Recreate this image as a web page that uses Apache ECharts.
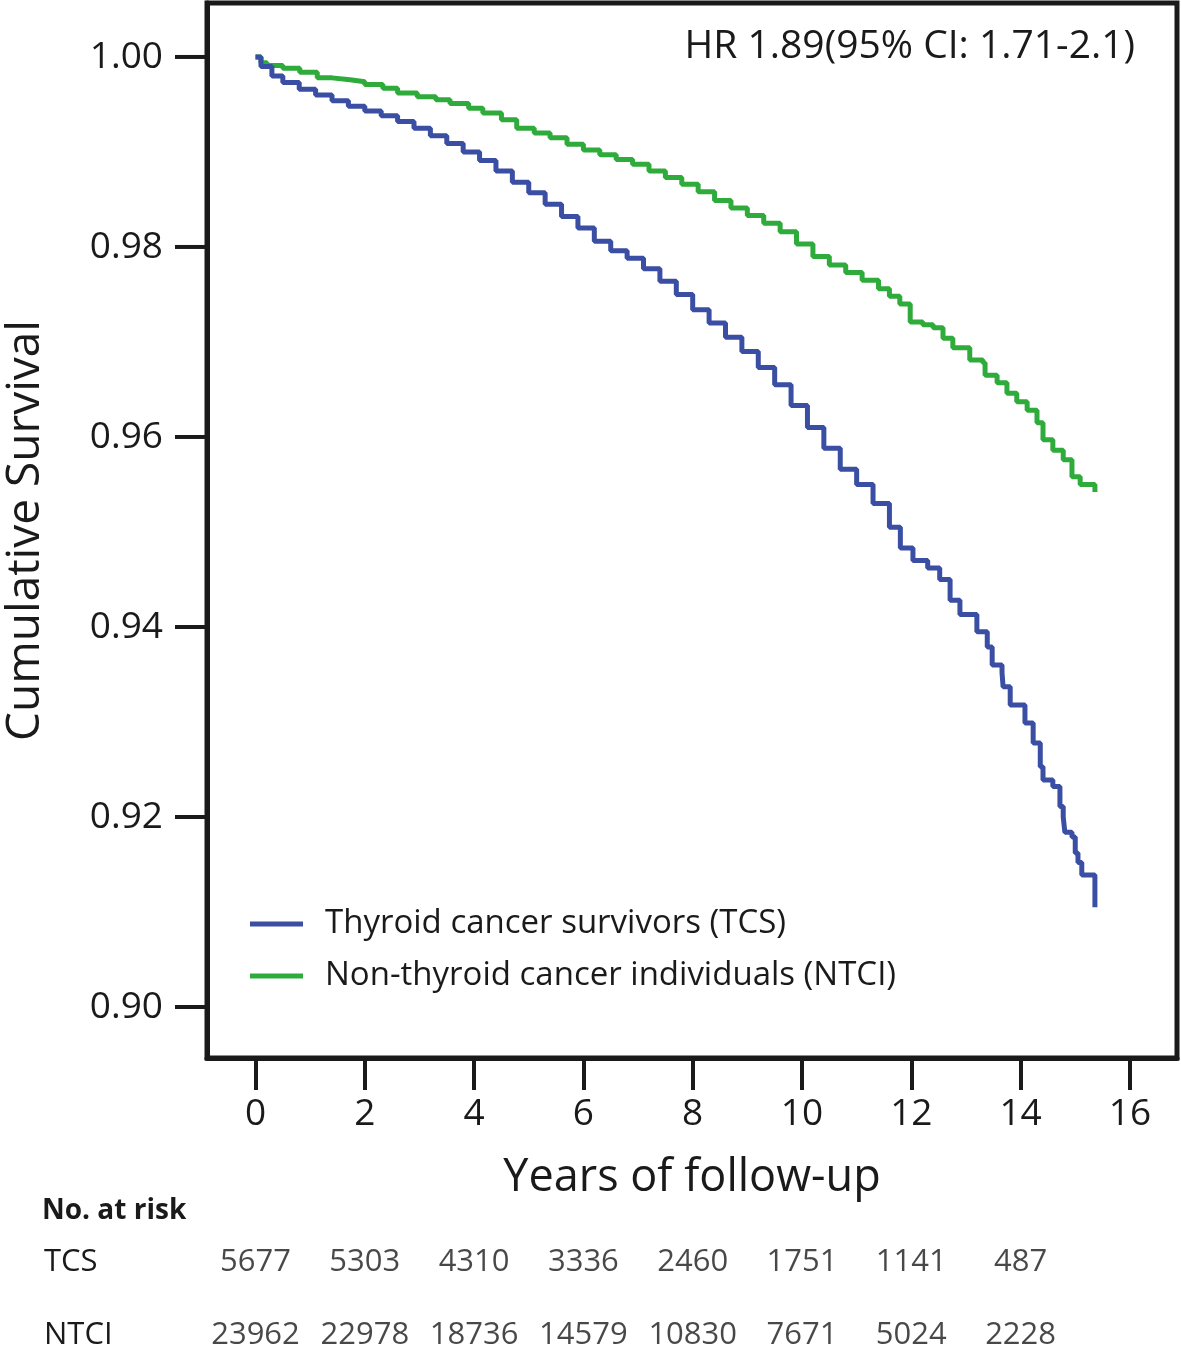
<!DOCTYPE html>
<html>
<head>
<meta charset="utf-8">
<script src="https://cdn.jsdelivr.net/npm/echarts@6/dist/echarts.min.js"></script>
<style>html,body{margin:0;padding:0;background:#fff}#c{width:1181px;height:1347px}</style>
</head>
<body>
<div id="c"></div>
<script>
// ---- data ----
var xTicks = [0, 2, 4, 6, 8, 10, 12, 14, 16];
var yTicks = [0.90, 0.92, 0.94, 0.96, 0.98, 1.00];
var seriesNames = ['Thyroid cancer survivors (TCS)', 'Non-thyroid cancer individuals (NTCI)'];
var tcs = [[0,1.000],[0.1,0.9990],[0.3,0.9980],[0.5,0.9973],[0.8,0.9966],[1.1,0.9960],[1.4,0.9954],[1.7,0.9948],[2.0,0.9943],[2.3,0.9938],[2.6,0.9932],[2.9,0.9925],[3.2,0.9917],[3.5,0.9909],[3.8,0.9900],[4.1,0.9891],[4.4,0.9880],[4.7,0.9868],[5.0,0.9857],[5.3,0.9845],[5.6,0.9832],[5.9,0.9820],[6.2,0.9806],[6.5,0.9796],[6.8,0.9788],[7.1,0.9777],[7.4,0.9764],[7.7,0.9750],[8.0,0.9734],[8.3,0.9720],[8.6,0.9705],[8.9,0.9690],[9.2,0.9673],[9.5,0.9655],[9.8,0.9633],[10.1,0.9610],[10.4,0.9588],[10.7,0.9566],[11.0,0.9550],[11.3,0.9530],[11.6,0.9505],[11.8,0.9483],[12.03,0.9470],[12.3,0.9462],[12.52,0.9450],[12.71,0.9428],[12.89,0.9413],[13.2,0.9395],[13.39,0.9379],[13.48,0.9360],[13.66,0.9352],[13.68,0.9337],[13.81,0.9318],[14.08,0.9299],[14.23,0.9278],[14.36,0.9253],[14.41,0.9239],[14.59,0.9232],[14.72,0.9211],[14.78,0.9200],[14.81,0.9184],[14.94,0.9179],[15.0,0.9162],[15.05,0.9152],[15.12,0.9139],[15.36,0.9139],[15.36,0.9105]];
var ntci = [[0,1.000],[0.1,0.9994],[0.21,0.9991],[0.5,0.9988],[0.81,0.9984],[1.13,0.9978],[1.4,0.9976],[1.73,0.9974],[2.0,0.9971],[2.33,0.9967],[2.6,0.9962],[2.96,0.9958],[3.3,0.9955],[3.56,0.9951],[3.9,0.9946],[4.16,0.9941],[4.5,0.9934],[4.78,0.9925],[5.1,0.9920],[5.39,0.9915],[5.7,0.9908],[6.0,0.9902],[6.3,0.9897],[6.6,0.9892],[6.9,0.9887],[7.2,0.9880],[7.5,0.9873],[7.8,0.9866],[8.1,0.9858],[8.4,0.9849],[8.7,0.9841],[9.0,0.9833],[9.3,0.9825],[9.6,0.9816],[9.9,0.9803],[10.2,0.9790],[10.5,0.9781],[10.8,0.9773],[11.1,0.9765],[11.4,0.9756],[11.6,0.9748],[11.79,0.9740],[11.98,0.9721],[12.21,0.9718],[12.40,0.9715],[12.58,0.9704],[12.76,0.9694],[13.07,0.9681],[13.31,0.9678],[13.35,0.9665],[13.57,0.9657],[13.75,0.9646],[13.93,0.9637],[14.12,0.9628],[14.30,0.9615],[14.41,0.9597],[14.59,0.9586],[14.78,0.9576],[14.94,0.9558],[15.09,0.9550],[15.36,0.9547],[15.36,0.9542]];
var riskRows = ['TCS', 'NTCI'];
var riskTimes = [0, 2, 4, 6, 8, 10, 12, 14];
var riskTCS = [5677, 5303, 4310, 3336, 2460, 1751, 1141, 487];
var riskNTCI = [23962, 22978, 18736, 14579, 10830, 7671, 5024, 2228];
var hrText = 'HR 1.89(95% CI: 1.71-2.1)';
var riskTitle = 'No. at risk';

// ---- chart ----
var FONT = '"Open Sans", "Noto Sans", sans-serif';
var INK = '#1a1a1a';
var X_MIN = -0.8875, X_MAX = 16.862, Y_MIN = 0.89463, Y_MAX = 1.00568;
var chart = echarts.init(document.getElementById('c'), null, {renderer: 'canvas'});
function riskData(vals, row) { return vals.map(function (v, i) { return [riskTimes[i], row, v]; }); }
var option = {
  animation: false,
  backgroundColor: '#fff',
  textStyle: {fontFamily: FONT, color: INK},
  title: [
    {text: hrText, right: 46, top: 27, padding: 0, textStyle: {fontFamily: FONT, fontSize: 39, fontWeight: 'normal', color: INK}},
    {text: riskTitle, left: 42, top: 1197, padding: 0, textStyle: {fontFamily: FONT, fontSize: 28, fontWeight: 'bold', color: INK}}
  ],
  legend: {
    orient: 'vertical', left: 250, top: 904, padding: 0, itemWidth: 53, itemHeight: 5, itemGap: 12, icon: 'rect',
    data: seriesNames,
    textStyle: {fontFamily: FONT, fontSize: 33, color: INK, lineHeight: 40, padding: [0, 0, 0, 17]}
  },
  grid: [
    {left: 207, top: 3, right: 4, bottom: 289, show: true, borderColor: INK, borderWidth: 5, containLabel: false, outerBoundsMode: 'none'},
    {left: 207, top: 1226, right: 4, height: 146, show: false, containLabel: false, outerBoundsMode: 'none'}
  ],
  xAxis: [
    {type: 'value', gridIndex: 0, min: X_MIN, max: X_MAX, position: 'bottom',
     name: 'Years of follow-up', nameLocation: 'middle', nameGap: 98,
     nameTextStyle: {fontFamily: FONT, fontSize: 45, color: INK},
     axisLine: {show: true, onZero: false, lineStyle: {color: INK, width: 5}}, splitLine: {show: false},
     axisTick: {show: true, inside: false, length: 32, lineStyle: {color: INK, width: 4}, customValues: xTicks},
     axisLabel: {show: true, margin: 38, fontFamily: FONT, fontSize: 37, color: INK, customValues: xTicks}},
    {type: 'value', gridIndex: 1, min: X_MIN, max: X_MAX, show: false}
  ],
  yAxis: [
    {type: 'value', gridIndex: 0, min: Y_MIN, max: Y_MAX, position: 'left',
     name: 'Cumulative Survival', nameLocation: 'middle', nameGap: 158,
     nameTextStyle: {fontFamily: FONT, fontSize: 46, color: INK},
     axisLine: {show: true, onZero: false, lineStyle: {color: INK, width: 5}}, splitLine: {show: false},
     axisTick: {show: false},
     axisLabel: {show: true, margin: 44, fontFamily: FONT, fontSize: 37, color: INK, customValues: yTicks,
       formatter: function (v) { return v.toFixed(2); }}},
    {type: 'category', gridIndex: 1, data: riskRows, inverse: true,
     axisLine: {show: false, onZero: false}, axisTick: {show: false}, splitLine: {show: false},
     axisLabel: {show: true, align: 'left', margin: 163, fontFamily: FONT, fontSize: 31, color: INK}}
  ],
  series: [
    {name: seriesNames[0], type: 'line', step: 'end', xAxisIndex: 0, yAxisIndex: 0, data: tcs,
     showSymbol: false, symbol: 'none', lineStyle: {color: '#3a4ea4', width: 5}, itemStyle: {color: '#3a4ea4'}, z: 3},
    {name: seriesNames[1], type: 'line', step: 'end', xAxisIndex: 0, yAxisIndex: 0, data: ntci,
     showSymbol: false, symbol: 'none', lineStyle: {color: '#2fab3c', width: 5}, itemStyle: {color: '#2fab3c'}, z: 2},
    {type: 'scatter', xAxisIndex: 1, yAxisIndex: 1, data: riskData(riskTCS, 'TCS'), symbolSize: 1,
     itemStyle: {color: 'rgba(0,0,0,0)'}, silent: true,
     label: {show: true, position: 'inside', fontFamily: FONT, fontSize: 31, color: INK, formatter: function (p) { return p.value[2]; }}},
    {type: 'scatter', xAxisIndex: 1, yAxisIndex: 1, data: riskData(riskNTCI, 'NTCI'), symbolSize: 1,
     itemStyle: {color: 'rgba(0,0,0,0)'}, silent: true,
     label: {show: true, position: 'inside', fontFamily: FONT, fontSize: 31, color: INK, formatter: function (p) { return p.value[2]; }}}
  ]
};
chart.setOption(option);

// y-axis tick marks, placed through the chart's own scales (outward from the left frame edge)
var frameLeft = chart.convertToPixel({xAxisIndex: 0}, X_MIN);
var tickGraphics = yTicks.map(function (v) {
  var py = chart.convertToPixel({yAxisIndex: 0}, v);
  return {type: 'line', silent: true, z: 10,
    shape: {x1: frameLeft - 32, y1: py, x2: frameLeft, y2: py},
    style: {stroke: INK, lineWidth: 4}};
});
chart.setOption({graphic: tickGraphics});
</script>
</body>
</html>
